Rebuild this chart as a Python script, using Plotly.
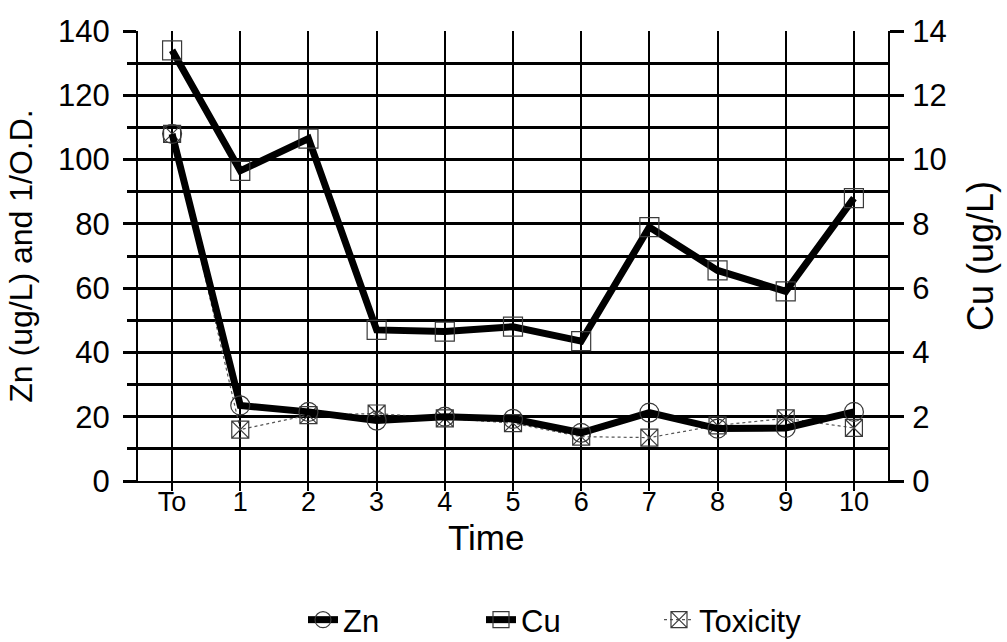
import plotly.graph_objects as go

# Sampling times and measured series
times = ["To", "1", "2", "3", "4", "5", "6", "7", "8", "9", "10"]
zn = [108, 23.5, 21.5, 18.8, 20.0, 19.3, 15.0, 21.3, 16.3, 16.5, 21.5]
cu = [13.4, 9.65, 10.65, 4.7, 4.65, 4.8, 4.35, 7.9, 6.55, 5.9, 8.8]
toxicity = [108, 16.0, 20.5, 21.0, 19.5, 18.0, 13.8, 13.5, 17.3, 19.5, 16.5]

x = list(range(len(times)))
FONT = "Liberation Sans, Arial, sans-serif"
INK = "#000000"
MK = "#3a3a3a"

fig = go.Figure()

# thin dotted toxicity trace sits underneath the two thick metal lines
fig.add_trace(go.Scatter(
    x=x, y=toxicity, name="Toxicity", mode="lines+markers", legendrank=3,
    line=dict(color="#555555", width=1.2, dash="dot"),
    marker=dict(symbol="square-x-open", size=17, color=MK, line=dict(width=1.2, color=MK)),
))
fig.add_trace(go.Scatter(
    x=x, y=zn, name="Zn", mode="lines+markers", legendrank=1,
    line=dict(color=INK, width=7),
    marker=dict(symbol="circle-open", size=19, color=MK, line=dict(width=1.2, color=MK)),
))
fig.add_trace(go.Scatter(
    x=x, y=cu, name="Cu", mode="lines+markers", yaxis="y2", legendrank=2,
    line=dict(color=INK, width=7),
    marker=dict(symbol="square-open", size=19, color=MK, line=dict(width=1.2, color=MK)),
))

fig.update_layout(
    width=1007, height=642,
    margin=dict(l=138, r=119, t=31, b=161),
    paper_bgcolor="white", plot_bgcolor="white",
    font=dict(family=FONT, color=INK),
    showlegend=True,
    legend=dict(
        orientation="h", traceorder="normal",
        x=0.22, xanchor="left", y=1 - 620 / 642, yanchor="middle", yref="container",
        font=dict(size=31, family=FONT, color=INK),
        entrywidth=133, entrywidthmode="pixels",
        bgcolor="rgba(0,0,0,0)",
    ),
    xaxis=dict(
        range=[-0.5, 10.5], tickmode="array", tickvals=x, ticktext=times,
        showgrid=True, gridcolor=INK, gridwidth=2,
        showline=True, linecolor=INK, linewidth=2,
        ticks="outside", ticklen=8, tickwidth=2, tickcolor=INK,
        ticklabelstandoff=-12,
        tickfont=dict(size=27, family=FONT, color=INK),
        zeroline=False,
    ),
    yaxis=dict(
        range=[0, 140], tickmode="linear", tick0=0, dtick=20,
        showgrid=True, gridcolor=INK, gridwidth=2.5,
        showline=True, linecolor=INK, linewidth=2,
        ticks="outside", ticklen=13, tickwidth=2.5, tickcolor=INK,
        ticklabelstandoff=7,
        minor=dict(dtick=10, tick0=0, ticks="outside", ticklen=9, tickwidth=2.5,
                   tickcolor=INK, showgrid=True, gridcolor=INK, gridwidth=2.5),
        tickfont=dict(size=31, family=FONT, color=INK),
        title=dict(text="Zn (ug/L) and 1/O.D.", font=dict(size=32, family=FONT, color=INK), standoff=16),
        zeroline=False,
    ),
    yaxis2=dict(
        range=[0, 14], tickmode="linear", tick0=0, dtick=2,
        overlaying="y", side="right", anchor="x",
        showgrid=False, showline=True, linecolor=INK, linewidth=2,
        ticks="outside", ticklen=14, tickwidth=2.5, tickcolor=INK,
        ticklabelstandoff=2,
        tickfont=dict(size=31, family=FONT, color=INK),
        title=dict(text="Cu (ug/L)", font=dict(size=36, family=FONT, color=INK), standoff=22),
        zeroline=False,
    ),
    annotations=[dict(
        text="Time", xref="paper", yref="paper",
        x=(486 - 138) / 750, y=-(537 - 481) / 450,
        xanchor="center", yanchor="middle", showarrow=False,
        font=dict(size=35, family=FONT, color=INK),
    )],
)

fig.write_html("out.html")
